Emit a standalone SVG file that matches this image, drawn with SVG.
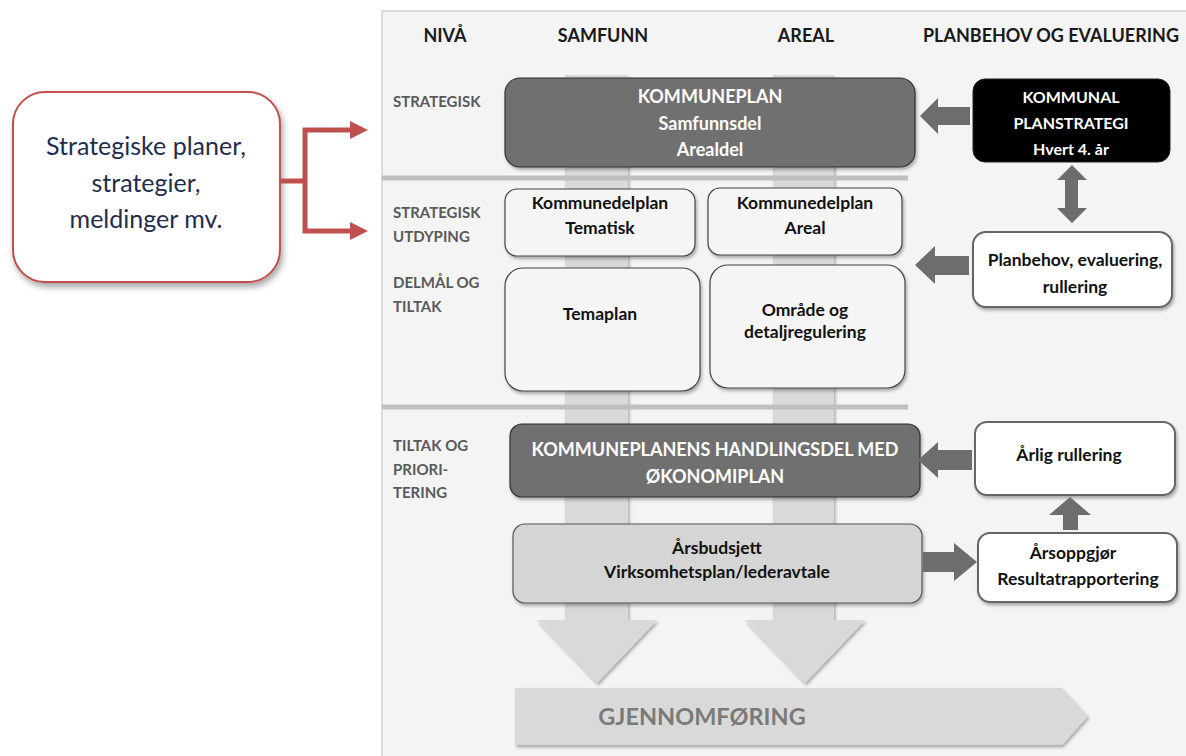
<svg xmlns="http://www.w3.org/2000/svg" width="1186" height="756" viewBox="0 0 1186 756">
<defs>
<filter id="sh" x="-10%" y="-10%" width="130%" height="140%"><feDropShadow dx="1.5" dy="2.5" stdDeviation="1.5" flood-color="#000" flood-opacity="0.3"/></filter>
<filter id="shr" x="-10%" y="-10%" width="130%" height="130%"><feDropShadow dx="2" dy="4" stdDeviation="3" flood-color="#000" flood-opacity="0.35"/></filter>
<marker id="ra" markerUnits="userSpaceOnUse" markerWidth="20" markerHeight="20" refX="18" refY="10" orient="auto"><polygon points="0,1 18,10 0,19" fill="#c0504d"/></marker>
<style>
.hd{font-family:Lato,"Open Sans",sans-serif;font-weight:700;font-size:18px;fill:#1a1a1a;text-anchor:middle}
.lv{font-family:Lato,"Open Sans",sans-serif;font-weight:700;font-size:15px;fill:#595959}
.wt{font-family:Lato,"Open Sans",sans-serif;font-weight:700;font-size:18px;fill:#fff;text-anchor:middle}
.bt{font-family:Lato,"Open Sans",sans-serif;font-weight:700;font-size:17.5px;fill:#111;text-anchor:middle}
.dark{fill:#6f6f6f;stroke:#333;stroke-width:1.2}
.light{fill:#f5f5f5;stroke:#444;stroke-width:1.2}
.white{fill:#fff;stroke:#666;stroke-width:2}
.blk{fill:#6d6d6d}
.sep{stroke:#bfbfbf;stroke-width:5}
</style>
</defs>
<rect x="382" y="11" width="812" height="752" fill="#f4f4f4" stroke="#d2d2d2" stroke-width="1.5"/>
<g id="bands" fill="#d9d9d9">
<polygon points="565,75 628,75 628,620 657,620 597,683 537,620 565,620" filter="url(#sh)"/>
<polygon points="773,75 834,75 834,620 865,620 805,683 745,620 773,620" filter="url(#sh)"/>
</g>
<line class="sep" x1="382" y1="178" x2="908" y2="178"/>
<line class="sep" x1="382" y1="407" x2="908" y2="407"/>
<g id="gjennomforing">
<polygon points="515,688 1062,688 1088,716 1062,745 515,745" fill="#d9d9d9" filter="url(#sh)"/>
<text x="702" y="725" font-family="Lato,'Open Sans',sans-serif" font-weight="700" font-size="23.5" fill="#7a7a7a" text-anchor="middle">GJENNOMFØRING</text>
</g>
<g id="headers">
<text class="hd" x="445" y="42">NIVÅ</text>
<text class="hd" x="603" y="42">SAMFUNN</text>
<text class="hd" x="806" y="42">AREAL</text>
<text class="hd" x="1051" y="42">PLANBEHOV OG EVALUERING</text>
</g>
<g id="levels">
<text class="lv" x="393" y="107">STRATEGISK</text>
<text class="lv" x="393" y="218">STRATEGISK</text>
<text class="lv" x="393" y="242">UTDYPING</text>
<text class="lv" x="393" y="288">DELMÅL OG</text>
<text class="lv" x="393" y="312">TILTAK</text>
<text class="lv" x="393" y="451">TILTAK OG</text>
<text class="lv" x="393" y="475">PRIORI-</text>
<text class="lv" x="393" y="498">TERING</text>
</g>
<g id="left-box">
<rect x="13" y="92" width="267" height="190" rx="32" fill="#fff" stroke="#c0504d" stroke-width="2" filter="url(#shr)"/>
<g font-family="Lato,'Open Sans',sans-serif" font-size="25" fill="#1f2d4d" text-anchor="middle">
<text x="146" y="155">Strategiske planer,</text>
<text x="146" y="192">strategier,</text>
<text x="146" y="228">meldinger mv.</text>
</g>
</g>
<g id="kommuneplan">
<rect class="dark" x="505" y="78" width="410" height="89" rx="15" filter="url(#sh)"/>
<text class="wt" x="710" y="103">KOMMUNEPLAN</text>
<text class="wt" x="710" y="130">Samfunnsdel</text>
<text class="wt" x="710" y="156">Arealdel</text>
</g>
<g id="planstrategi">
<rect x="973" y="79" width="197" height="83" rx="12" fill="#000" stroke="#222"/>
<text class="wt" x="1071" y="103" style="font-size:16px">KOMMUNAL</text>
<text class="wt" x="1071" y="129" style="font-size:16px">PLANSTRATEGI</text>
<text class="wt" x="1071" y="155" style="font-size:16px">Hvert 4. år</text>
</g>
<g id="kdp-tematisk">
<rect class="light" x="505" y="189" width="190" height="67" rx="12" filter="url(#sh)"/>
<text class="bt" x="600" y="209">Kommunedelplan</text>
<text class="bt" x="600" y="234">Tematisk</text>
</g>
<g id="kdp-areal">
<rect class="light" x="708" y="188" width="194" height="67" rx="12" filter="url(#sh)"/>
<text class="bt" x="805" y="209">Kommunedelplan</text>
<text class="bt" x="805" y="234">Areal</text>
</g>
<g id="temaplan">
<rect class="light" x="505" y="268" width="195" height="123" rx="18" filter="url(#sh)"/>
<text class="bt" x="600" y="320">Temaplan</text>
</g>
<g id="omrade">
<rect class="light" x="710" y="265" width="195" height="123" rx="18" filter="url(#sh)"/>
<text class="bt" x="805" y="316">Område og</text>
<text class="bt" x="805" y="338">detaljregulering</text>
</g>
<g id="planbehov">
<rect class="white" x="973" y="232" width="199" height="75" rx="13" filter="url(#sh)"/>
<text class="bt" x="1075" y="266">Planbehov, evaluering,</text>
<text class="bt" x="1075" y="293">rullering</text>
</g>
<g id="handlingsdel">
<rect class="dark" x="510" y="424" width="410" height="73" rx="12" filter="url(#sh)"/>
<text class="wt" x="715" y="456">KOMMUNEPLANENS HANDLINGSDEL MED</text>
<text class="wt" x="715" y="483">ØKONOMIPLAN</text>
</g>
<g id="arsbudsjett">
<rect x="513" y="524" width="409" height="79" rx="12" fill="#d5d5d5" stroke="#555" stroke-width="1.2" filter="url(#sh)"/>
<text class="bt" x="717" y="554">Årsbudsjett</text>
<text class="bt" x="717" y="578">Virksomhetsplan/lederavtale</text>
</g>
<g id="arlig">
<rect class="white" x="975" y="422" width="200" height="73" rx="12" filter="url(#sh)"/>
<text class="bt" x="1069" y="461">Årlig rullering</text>
</g>
<g id="arsoppgjor">
<rect class="white" x="978" y="533" width="199" height="69" rx="12" filter="url(#sh)"/>
<text class="bt" x="1073" y="559">Årsoppgjør</text>
<text class="bt" x="1078" y="585">Resultatrapportering</text>
</g>
<g id="connectors">
<path d="M281,181 H305 M350,130 H305 V231 H350" fill="none" stroke="#c0504d" stroke-width="5"/>
<path d="M300,130 H368" fill="none" stroke="none" marker-end="url(#ra)"/>
<path d="M300,231 H368" fill="none" stroke="none" marker-end="url(#ra)"/>
<g class="blk">
<polygon points="920,116 938,98 938,107 970,107 970,125 938,125 938,134"/>
<polygon points="1072,165 1087,180 1078,180 1078,208 1087,208 1072,223 1057,208 1065,208 1065,180 1057,180"/>
<polygon points="915,265 935,246 935,256 969,256 969,275 935,275 935,284"/>
<polygon points="918,460 938,442 938,450 972,450 972,470 938,470 938,478"/>
<polygon points="1070,497 1091,515 1078,515 1078,530 1063,530 1063,515 1049,515"/>
<polygon points="977,562 954,543 954,552 923,552 923,572 954,572 954,581"/>
</g>
</g>
</svg>
